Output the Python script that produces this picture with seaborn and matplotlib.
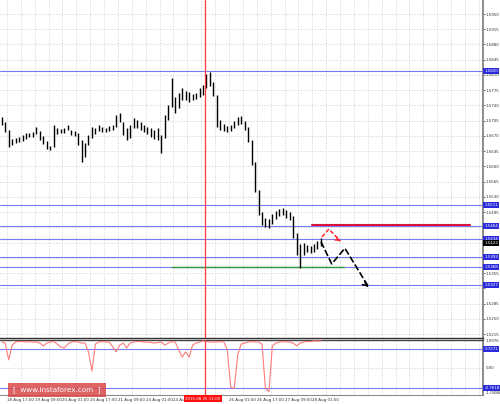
import matplotlib
matplotlib.use("Agg")
import matplotlib.pyplot as plt
import matplotlib.transforms as mtransforms
from matplotlib.patches import Rectangle
import seaborn as sns

# H2 bars (x axis counted in hours from the left edge)
bar_high = [1.5714, 1.5702, 1.5684, 1.5663, 1.5665, 1.5668, 1.5672, 1.5677, 1.5677, 1.5679,
            1.5690, 1.5681, 1.5670, 1.5658, 1.5647, 1.5695, 1.5688, 1.5686, 1.5688, 1.5695,
            1.5684, 1.5681, 1.5677, 1.5661, 1.5654, 1.5672, 1.5690, 1.5688, 1.5695, 1.5690,
            1.5688, 1.5693, 1.5695, 1.5718, 1.5723, 1.5702, 1.5688, 1.5695, 1.5711, 1.5707,
            1.5702, 1.5695, 1.5690, 1.5688, 1.5684, 1.5688, 1.5672, 1.5718, 1.5741, 1.5803,
            1.5760, 1.5769, 1.5780, 1.5773, 1.5771, 1.5766, 1.5769, 1.5780, 1.5787, 1.5812,
            1.5817, 1.5794, 1.5764, 1.5707, 1.5697, 1.5693, 1.5695, 1.5704, 1.5714, 1.5716,
            1.5704, 1.5690, 1.5661, 1.5610, 1.5546, 1.5495, 1.5481, 1.5479, 1.5491, 1.5497,
            1.5502, 1.5504, 1.5500, 1.5495, 1.5486, 1.5447, 1.5422, 1.5424, 1.5420, 1.5418,
            1.5422, 1.5429, 1.5436]
bar_low = [1.5695, 1.5679, 1.5645, 1.5649, 1.5654, 1.5656, 1.5658, 1.5663, 1.5668, 1.5668,
           1.5674, 1.5661, 1.5651, 1.5640, 1.5638, 1.5645, 1.5674, 1.5677, 1.5677, 1.5684,
           1.5672, 1.5670, 1.5649, 1.5610, 1.5622, 1.5649, 1.5665, 1.5674, 1.5681, 1.5679,
           1.5679, 1.5681, 1.5684, 1.5690, 1.5702, 1.5672, 1.5661, 1.5665, 1.5688, 1.5688,
           1.5684, 1.5679, 1.5674, 1.5668, 1.5663, 1.5661, 1.5631, 1.5665, 1.5707, 1.5737,
           1.5723, 1.5734, 1.5753, 1.5753, 1.5748, 1.5753, 1.5755, 1.5760, 1.5764, 1.5780,
           1.5785, 1.5762, 1.5690, 1.5684, 1.5681, 1.5679, 1.5681, 1.5688, 1.5695, 1.5697,
           1.5684, 1.5656, 1.5603, 1.5541, 1.5488, 1.5466, 1.5461, 1.5459, 1.5468, 1.5479,
           1.5486, 1.5488, 1.5481, 1.5477, 1.5436, 1.5397, 1.5367, 1.5397, 1.5404, 1.5401,
           1.5404, 1.5411, 1.5418]
osc_values = [1.00, 0.96, 0.31, 0.88, 1.00, 1.02, 1.02, 1.00, 1.02, 1.00,
              1.00, 0.96, 0.85, 0.96, 1.00, 1.02, 0.92, 0.81, 0.77, 0.92,
              1.00, 1.02, 1.00, 0.96, 0.96, 0.62, -0.12, 0.92, 1.00, 1.02,
              1.00, 1.00, 0.81, 0.62, 0.88, 0.96, 0.77, 0.96, 1.00, 1.02,
              1.02, 1.00, 1.00, 0.98, 0.96, 0.98, 1.00, 0.88, 0.96, 1.02,
              1.00, 0.69, 0.42, 0.62, 0.42, 0.88, 0.96, 1.00, 1.04, 1.02,
              1.00, 1.00, 1.00, 1.02, 1.00, 0.70, -0.75, -0.80, 0.50, 0.92,
              0.96, 1.00, 1.02, 1.00, 1.00, 0.92, -0.80, -0.92, 0.85, 0.96,
              1.00, 1.02, 1.00, 1.00, 0.96, 0.85, 0.96, 1.00, 1.02, 1.02,
              1.04, 1.04, 1.04]
bar_hours = [2 * j + 1 for j in range(len(bar_high))]

price_ticks = [1.5950, 1.5915, 1.5880, 1.5845, 1.5810, 1.5775, 1.5740, 1.5705, 1.5670,
               1.5635, 1.5600, 1.5565, 1.5530, 1.5495, 1.5460, 1.5425, 1.5390, 1.5355,
               1.5320, 1.5285, 1.5250, 1.5215]
level_prices = [1.5820, 1.5511, 1.5464, 1.5434, 1.5393, 1.5368, 1.5327]
last_price = 1.5423
osc_levels = [0.7271, -0.7618]
osc_max, osc_min = 1.0976, -1.0486

# the 25 Aug 09:00 label sits under the red cursor box in the reference
time_ticks = [4, 20, 36, 52, 68, 84, 100, 116, 132, 148, 164, 180]
time_labels = ['18 Aug 17:00', '19 Aug 09:00', '20 Aug 01:00', '20 Aug 17:00',
               '21 Aug 09:00', '24 Aug 01:00', '24 Aug 17:00', '',
               '26 Aug 01:00', '26 Aug 17:00', '27 Aug 09:00', '28 Aug 01:00']
cursor_hour = 118
cursor_label = '2015.08.25 11:00'

resist_price, resist_from, resist_to = 1.5466, 180, 271
support_price, support_from, support_to = 1.5369, 99, 198
red_path_h = [185.6, 189.6, 196.0]
red_path_p = [1.5438, 1.5456, 1.5429]
black_path_h = [185.0, 191.2, 198.8, 212.3]
black_path_p = [1.5427, 1.5376, 1.5412, 1.5324]

sns.set_style('white')
plt.rcParams['font.family'] = ['DejaVu Sans']

fig = plt.figure(figsize=(5, 4.04), dpi=100)
ax = fig.add_axes([0, 1 - 338 / 404, 483 / 500, 338 / 404])
ax2 = fig.add_axes([0, 1 - 395 / 404, 483 / 500, 55.5 / 404])

grid_hours = list(range(4, 279, 8))
grid_kw = dict(color='#cfcfcf', linestyle=(0, (2, 2)), linewidth=0.5)
xmax = 278.4
label_fs = 2.9

# main price window; scale labels hidden under a highlighted box are left blank
covered = [last_price] + level_prices
tick_text = [f'{t:.4f}' if min(abs(t - c) for c in covered) > 0.0009 else '' for t in price_ticks]
ax.set_xlim(0, xmax)
ax.set_ylim(1.52059, 1.59822)
ax.set_xticks(grid_hours)
ax.set_yticks(price_ticks)
ax.set_yticklabels(tick_text)
ax.yaxis.tick_right()
ax.tick_params(axis='x', length=0, labelbottom=False)
ax.tick_params(axis='y', length=1.2, width=0.5, pad=0.8, labelsize=label_fs, colors='#333333')
ax.grid(True, **grid_kw)
for s in ['left', 'top']:
    ax.spines[s].set_visible(False)
ax.spines['right'].set_color('#8c8c8c')
ax.spines['right'].set_linewidth(1.4)
ax.spines['bottom'].set_color('#333333')
ax.spines['bottom'].set_linewidth(1.0)

for lvl in level_prices:
    ax.axhline(lvl, color='#7a7af0', linewidth=0.8, zorder=2)
ax.plot([resist_from, resist_to], [resist_price, resist_price], color='#d8143c', linewidth=1.5, zorder=3)
ax.plot([support_from, support_to], [support_price, support_price], color='#2e9a3c', linewidth=1.0, zorder=3)

ax.vlines(bar_hours, bar_low, bar_high, color='black', linewidth=1.0, zorder=4)
ax.axvline(cursor_hour, color='#ff3b3b', linewidth=0.9, zorder=5)

# forecast arrows
ax.plot(red_path_h, red_path_p, color='#ff1a1a', linewidth=1.0, linestyle=(0, (3, 1.5)), zorder=6)
ax.annotate('', xy=(red_path_h[-1], red_path_p[-1]),
            xytext=(red_path_h[-1] - 1.5, red_path_p[-1] + 0.00033),
            arrowprops=dict(arrowstyle='->', color='#ff1a1a', lw=1.0, mutation_scale=6), zorder=6)
ax.plot(black_path_h, black_path_p, color='black', linewidth=1.2, linestyle=(0, (4, 1.5)), zorder=6)
ax.annotate('', xy=(black_path_h[-1], black_path_p[-1]),
            xytext=(black_path_h[-1] - 2.0, black_path_p[-1] + 0.0006),
            arrowprops=dict(arrowstyle='->', color='black', lw=1.2, mutation_scale=7), zorder=6)

# highlighted price labels on the right scale
ytrans = mtransforms.blended_transform_factory(ax.transAxes, ax.transData)
for lvl in level_prices:
    ax.text(1.003, lvl, f'{lvl:.4f}', transform=ytrans, fontsize=label_fs, color='white',
            va='center', ha='left', clip_on=False, zorder=10,
            bbox=dict(boxstyle='square,pad=0.25', fc='#2b2bdc', ec='none'))
ax.text(1.003, last_price, f'{last_price:.4f}', transform=ytrans, fontsize=label_fs, color='white',
        va='center', ha='left', clip_on=False, zorder=10,
        bbox=dict(boxstyle='square,pad=0.25', fc='black', ec='none'))

# oscillator window
sns.lineplot(x=bar_hours, y=osc_values, ax=ax2, color='#ff7a7a', linewidth=0.8, zorder=4)
ax2.set_xlim(0, xmax)
ax2.set_ylim(osc_min, osc_max)
for lvl in osc_levels:
    ax2.axhline(lvl, color='#7a7af0', linewidth=0.8, zorder=2)
ax2.axvline(cursor_hour, color='#ff3b3b', linewidth=0.9, zorder=5)
ax2.set_xticks(time_ticks)
ax2.set_xticklabels(time_labels, ha='left')
ax2.set_xticks(grid_hours, minor=True)
ax2.set_yticks([0.0])
ax2.set_yticklabels([])
ax2.grid(True, which='minor', axis='x', **grid_kw)
ax2.grid(True, which='major', axis='y', **grid_kw)
ax2.tick_params(axis='x', which='major', length=1.5, width=0.5, pad=1, labelsize=label_fs, colors='#333333')
ax2.tick_params(axis='x', which='minor', length=0)
ax2.tick_params(axis='y', length=0)
ax2.spines['left'].set_visible(False)
ax2.spines['top'].set_color('#444444')
ax2.spines['top'].set_linewidth(1.0)
ax2.spines['right'].set_color('#8c8c8c')
ax2.spines['right'].set_linewidth(1.4)
ax2.spines['bottom'].set_color('#8c8c8c')
ax2.spines['bottom'].set_linewidth(0.8)
ax2.set_xlabel('')
ax2.set_ylabel('')

otrans = mtransforms.blended_transform_factory(ax2.transAxes, ax2.transData)
ax2.text(1.005, osc_max, f'{osc_max:.4f}', transform=otrans, fontsize=label_fs, color='#333333',
         va='top', ha='left', clip_on=False)
ax2.text(1.005, 0.0, '0.00', transform=otrans, fontsize=label_fs, color='#333333',
         va='center', ha='left', clip_on=False)
ax2.text(1.005, osc_min, f'{osc_min:.4f}', transform=otrans, fontsize=label_fs, color='#333333',
         va='bottom', ha='left', clip_on=False)
for lvl in osc_levels:
    ax2.text(1.003, lvl, f'{lvl:.4f}', transform=otrans, fontsize=label_fs, color='white',
             va='center', ha='left', clip_on=False, zorder=10,
             bbox=dict(boxstyle='square,pad=0.25', fc='#2b2bdc', ec='none'))

xtrans = mtransforms.blended_transform_factory(ax2.transData, ax2.transAxes)
ax2.text(cursor_hour - 1, -0.03, cursor_label, transform=xtrans, fontsize=label_fs, color='white',
         va='top', ha='center', clip_on=False, zorder=10,
         bbox=dict(boxstyle='square,pad=0.35', fc='#ff1010', ec='none'))

# watermark
fig.patches.append(Rectangle((8 / 500, 1 - 397 / 404), 98 / 500, 14 / 404,
                             transform=fig.transFigure, facecolor='#d94848', alpha=0.85,
                             edgecolor='none', zorder=20))
fig.text(57 / 500, 1 - 390 / 404, '[  www.instaforex.com  ]', color='white', fontsize=5.2,
         ha='center', va='center', zorder=21)

fig.savefig('out.png', dpi=100, facecolor='white')
